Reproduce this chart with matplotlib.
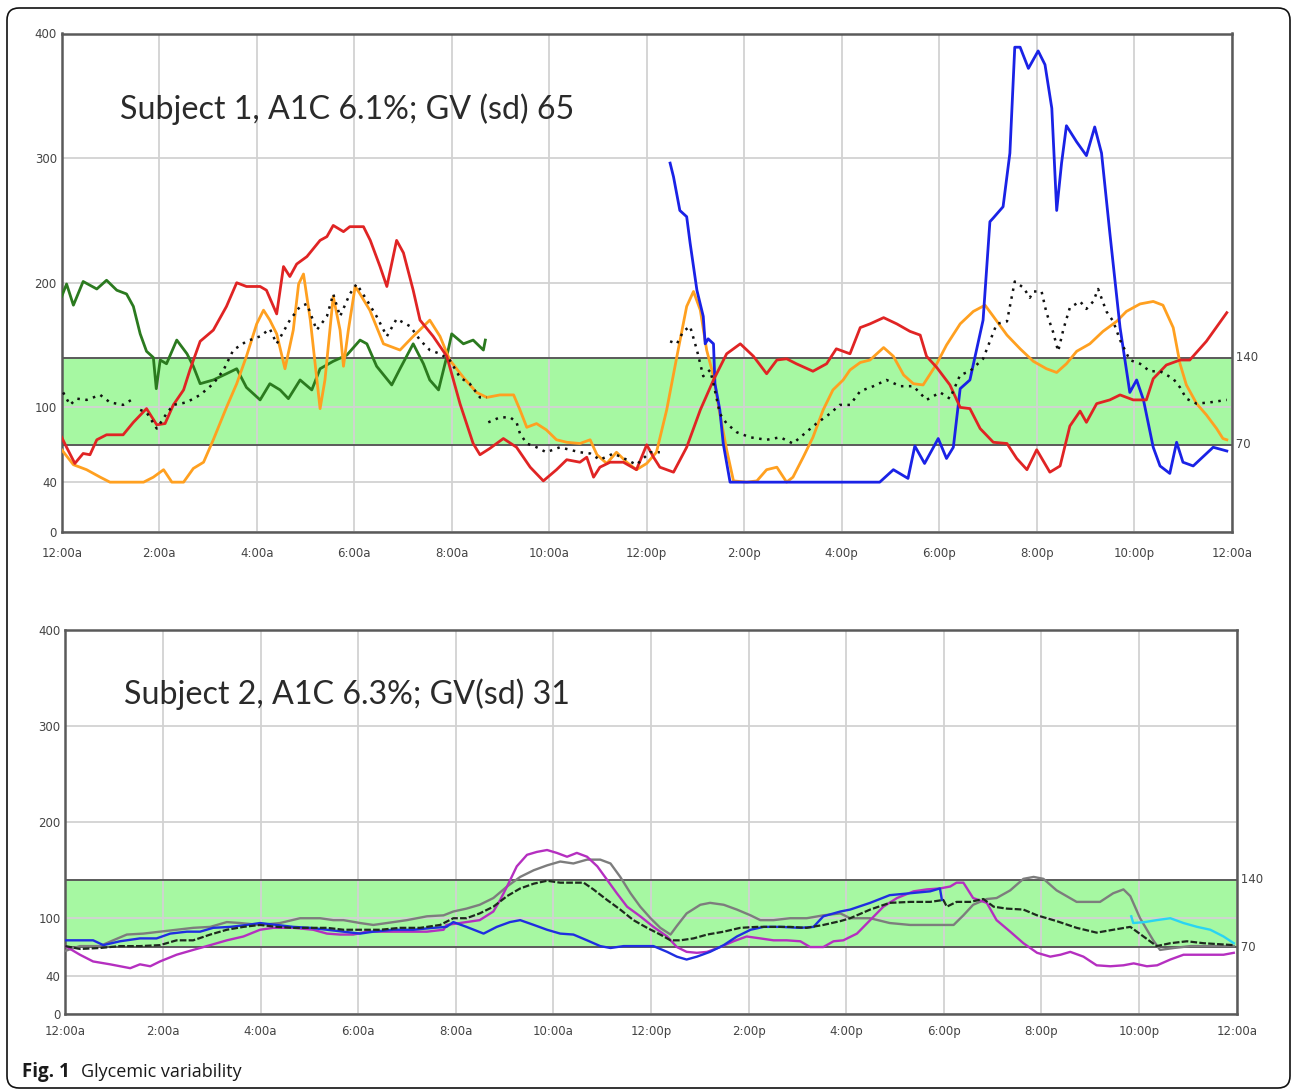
import matplotlib
matplotlib.use("Agg")
import matplotlib.pyplot as plt
from matplotlib.patches import FancyBboxPatch
import numpy as np

nan = float("nan")

hour_ticks = list(range(0, 25, 2))
hour_labels = ["12:00a", "2:00a", "4:00a", "6:00a", "8:00a", "10:00a", "12:00p",
               "2:00p", "4:00p", "6:00p", "8:00p", "10:00p", "12:00a"]
y_ticks = [0, 40, 100, 200, 300, 400]
target_lo, target_hi = 70, 140

title_1 = "Subject 1, A1C 6.1%; GV (sd) 65"
title_2 = "Subject 2, A1C 6.3%; GV(sd) 31"

# ---- subject 1 (hours, mg/dL) ----
s1_green_t = [0, 0.1, 0.24, 0.44, 0.72, 0.92, 1.13, 1.33, 1.47, 1.61, 1.74, 1.88, 1.94, 2.02, 2.15,
              2.36, 2.57, 2.7, 2.84, 3.11, 3.38, 3.59, 3.79, 4.07, 4.27, 4.48, 4.65, 4.89, 5.13, 5.3,
              5.57, 5.85, 6.12, 6.26, 6.46, 6.77, 6.94, 7.21, 7.42, 7.55, 7.73, 7.9, 8.0, 8.24, 8.44,
              8.65, 8.69]
s1_green_v = [189, 199, 182, 201, 195, 202, 194, 191, 181, 159, 145, 140, 115, 138, 135,
              154, 143, 133, 119, 122, 127, 131, 116, 106, 119, 114, 107, 122, 114, 131,
              137, 142, 154, 151, 133, 118, 131, 151, 135, 122, 114, 141, 159, 151, 154,
              146, 154]

s1_red_t = [0, 0.1, 0.27, 0.44, 0.58, 0.72, 0.92, 1.26, 1.47, 1.74, 1.95, 2.12, 2.29, 2.5, 2.63,
            2.84, 3.11, 3.38, 3.59, 3.79, 4.07, 4.2, 4.41, 4.55, 4.68, 4.82, 5.03, 5.3, 5.44, 5.57,
            5.78, 5.91, 6.19, 6.33, 6.53, 6.67, 6.87, 7.01, 7.21, 7.35, 7.62, 7.9, 8.17, 8.44, 8.58,
            8.78, 9.06, 9.33, 9.61, 9.88, 10.15, 10.36, 10.63, 10.77, 10.91, 11.04, 11.25, 11.52,
            11.79, 12.0, 12.14, 12.27, 12.55, 12.82, 13.1, 13.37, 13.64, 13.92, 14.19, 14.46, 14.67,
            14.87, 15.07, 15.41, 15.69, 15.89, 16.17, 16.38, 16.58, 16.86, 17.13, 17.4, 17.61, 17.74,
            17.95, 18.22, 18.43, 18.63, 18.84, 19.11, 19.39, 19.59, 19.8, 20.0, 20.27, 20.48, 20.68,
            20.89, 21.02, 21.23, 21.5, 21.71, 21.98, 22.25, 22.39, 22.66, 22.94, 23.14, 23.48, 23.9]
s1_red_v = [76, 68, 55, 63, 62, 74, 78, 78, 88, 99, 86, 87, 102, 114, 130,
            153, 162, 181, 200, 197, 197, 194, 175, 213, 205, 215, 221, 234, 237, 246,
            241, 245, 245, 234, 213, 197, 234, 224, 194, 170, 157, 141, 103, 71, 62,
            67, 75, 68, 52, 41, 50, 58, 56, 60, 44, 52, 56, 56,
            50, 70, 60, 52, 48, 68, 98, 122, 143, 151, 141, 127, 138,
            139, 135, 129, 135, 147, 143, 164, 167, 172, 167, 161, 158, 141,
            132, 118, 100, 99, 83, 72, 71, 59, 50, 66, 48, 53, 85,
            97, 88, 103, 106, 110, 106, 106, 123, 134, 138, 138, 153, 176]

s1_orange_t = [0, 0.24, 0.51, 0.79, 0.99, 1.68, 1.88, 2.09, 2.26, 2.5, 2.7, 2.91, 3.11, 3.38, 3.59,
               3.79, 4.0, 4.14, 4.27, 4.41, 4.58, 4.75, 4.86, 4.96, 5.1, 5.3, 5.4, 5.57, 5.71, 5.78,
               5.88, 6.02, 6.12, 6.32, 6.6, 6.94, 7.21, 7.42, 7.55, 7.76, 7.96, 8.24, 8.51, 8.72, 8.99,
               9.27, 9.4, 9.54, 9.74, 9.94, 10.15, 10.36, 10.63, 10.84, 10.98, 11.18, 11.38, 11.59,
               11.79, 12.0, 12.2, 12.41, 12.62, 12.82, 12.96, 13.1, 13.23, 13.37, 13.5, 13.64, 13.78,
               14.05, 14.26, 14.46, 14.67, 14.87, 15.0, 15.21, 15.41, 15.62, 15.82, 16.03, 16.17,
               16.38, 16.58, 16.86, 17.06, 17.27, 17.47, 17.67, 17.95, 18.15, 18.43, 18.7, 18.94,
               19.11, 19.39, 19.66, 19.93, 20.2, 20.41, 20.61, 20.82, 21.09, 21.36, 21.64, 21.84,
               22.12, 22.39, 22.59, 22.8, 22.94, 23.07, 23.28, 23.48, 23.69, 23.82, 23.9]
s1_orange_v = [66, 54, 50, 44, 40, 40, 44, 50, 40, 40, 51, 56, 74, 100, 119,
               141, 167, 178, 170, 159, 131, 162, 199, 207, 170, 99, 122, 189, 162, 133,
               162, 197, 191, 178, 151, 146, 157, 165, 170, 157, 138, 124, 112, 108, 110,
               110, 98, 84, 87, 82, 74, 72, 71, 74, 62, 55, 64, 56,
               50, 55, 64, 98, 141, 181, 193, 178, 146, 125, 95, 66, 41,
               40, 41, 50, 52, 40, 44, 60, 76, 98, 114, 122, 130,
               136, 138, 148, 141, 126, 119, 118, 135, 150, 167, 177, 182,
               173, 158, 147, 137, 131, 128, 135, 145, 151, 161, 169, 177,
               183, 185, 182, 164, 135, 118, 103, 94, 83, 75, 74]

s1_blue_t = [12.48, 12.55, 12.68, 12.82, 12.89, 13.03, 13.16, 13.2, 13.26, 13.37, 13.4, 13.5, 13.57,
             13.71, 16.78, 17.06, 17.36, 17.5, 17.7, 17.98, 18.15, 18.29, 18.43, 18.63, 18.9, 19.04,
             19.11, 19.31, 19.45, 19.55, 19.66, 19.83, 20.03, 20.17, 20.31, 20.41, 20.51, 20.61,
             20.82, 21.02, 21.19, 21.33, 21.5, 21.71, 21.91, 22.05, 22.19, 22.39, 22.53, 22.73,
             22.87, 23.0, 23.21, 23.62, 23.9]
s1_blue_v = [296, 285, 258, 253, 232, 194, 173, 151, 155, 151, 119, 98, 71,
             40, 40, 50, 43, 69, 55, 75, 59, 68, 115, 122, 170, 249,
             252, 261, 304, 389, 389, 372, 386, 375, 340, 258, 296, 326,
             313, 302, 325, 304, 240, 164, 112, 122, 106, 68, 53, 47,
             72, 56, 53, 68, 65]

# median trace, nan marks a gap
s1_median_t = [0.03, 0.17, 0.31, 0.51, 0.79, 0.99, 1.26, 1.47, 1.54,
               1.61, 1.74, 1.95, 2.15, 2.29, 2.56, 2.84, 3.11, 3.32, 3.52, 3.79, 4.07, 4.27, 4.41,
               4.68, 4.89, 5.03, 5.23, 5.44, 5.57, 5.71, 5.91, 6.05, 6.26, 6.46, 6.67, 6.87, 7.15,
               7.35, 7.55, 7.76, 7.96, 8.17, 8.37, 8.58, 8.72, 8.74,
               8.75, 8.99, 9.2, 9.33, 9.4, 9.54, 9.74, 9.94, 10.22, 10.42, 10.63, 10.84, 11.04,
               11.32, 11.59, 11.79, 12.07, 12.27, 12.4,
               12.48, 12.62, 12.75, 12.89, 13.03, 13.16, 13.3, 13.37, 13.5, 13.64, 13.85, 14.12,
               14.46, 14.74, 15.0, 15.21, 15.48, 15.76, 15.96, 16.17, 16.38, 16.65, 16.92, 17.2,
               17.47, 17.74, 18.02, 18.22, 18.43, 18.63, 18.9, 19.04, 19.18, 19.39, 19.55, 19.73,
               19.86, 19.93, 20.1, 20.2, 20.34, 20.44, 20.55, 20.68, 20.89, 21.02, 21.16, 21.26,
               21.43, 21.57, 21.71, 21.91, 22.12, 22.32, 22.53, 22.8, 22.94, 23.07, 23.28, 23.55, 23.9]
s1_median_v = [112, 102, 107, 106, 110, 104, 102, 107, nan,
               98, 96, 83, 95, 102, 104, 110, 119, 130, 146, 153, 157, 163, 151,
               170, 181, 183, 162, 173, 191, 173, 191, 199, 186, 173, 157, 171, 165,
               154, 146, 143, 138, 124, 119, 108, 108, nan,
               88, 92, 92, 88, 79, 71, 68, 64, 68, 66, 64, 63, 58,
               63, 58, 54, 64, 64, nan,
               153, 151, 161, 165, 146, 125, 130, 119, 95, 87, 80, 76,
               74, 76, 71, 78, 87, 95, 102, 102, 113, 117, 122, 117,
               117, 106, 112, 107, 126, 129, 139, 153, 167, 169, 201, 196,
               188, 193, 193, 176, 160, 145, 163, 180, 185, 179, 185, 195,
               177, 169, 154, 138, 135, 129, 129, 123, 116, 107, 103, 104, 106]

# ---- subject 2 ----
s2_magenta_t = [0, 0.3, 0.57, 0.92, 1.33, 1.53, 1.74, 1.94, 2.28, 2.62, 2.97, 3.31, 3.65, 3.99, 4.26,
                4.67, 5.08, 5.36, 5.63, 5.9, 6.18, 6.59, 7.0, 7.41, 7.75, 7.81, 7.95, 8.22, 8.49, 8.77,
                8.91, 9.05, 9.25, 9.46, 9.66, 9.87, 10.07, 10.28, 10.48, 10.69, 10.9, 11.1, 11.3,
                11.51, 11.78, 12.05, 12.33, 12.53, 12.73, 12.94, 13.15, 13.42, 13.69, 13.96, 14.24,
                14.51, 14.78, 15.06, 15.26, 15.53, 15.74, 15.94, 16.22, 16.49, 16.76, 17.04, 17.38,
                17.65, 17.92, 18.13, 18.26, 18.4, 18.6, 18.88, 19.08, 19.36, 19.63, 19.91, 20.18,
                20.39, 20.59, 20.86, 21.13, 21.41, 21.68, 21.89, 22.16, 22.37, 22.64, 22.91, 23.32,
                23.73, 23.94]
s2_magenta_v = [71, 62, 55, 52, 48, 52, 50, 55, 62, 67, 72, 77, 81, 88, 90,
                90, 88, 84, 83, 83, 86, 86, 86, 86, 88, 93, 94, 96, 98, 107,
                119, 133, 154, 166, 169, 171, 168, 164, 168, 164, 154, 140, 126,
                112, 102, 91, 81, 70, 65, 64, 65, 70, 76, 81, 79,
                77, 77, 76, 70, 70, 76, 77, 84, 98, 112, 121, 128,
                130, 131, 133, 137, 137, 121, 116, 98, 86, 74, 64, 60,
                62, 65, 60, 51, 50, 51, 53, 50, 51, 57, 62, 62,
                62, 64]

s2_gray_t = [0, 0.3, 0.71, 0.98, 1.26, 1.6, 1.94, 2.28, 2.62, 2.97, 3.31, 3.58, 3.99, 4.4, 4.81,
             5.22, 5.49, 5.7, 6.04, 6.31, 6.59, 7.0, 7.41, 7.75, 7.95, 8.22, 8.49, 8.77, 9.05, 9.32,
             9.6, 9.87, 10.14, 10.41, 10.69, 10.96, 11.17, 11.37, 11.58, 11.78, 11.99, 12.19, 12.4,
             12.53, 12.73, 13.01, 13.21, 13.49, 13.76, 14.04, 14.24, 14.51, 14.85, 15.19, 15.53,
             15.88, 16.08, 16.49, 16.89, 17.31, 17.72, 18.2, 18.4, 18.6, 18.88, 19.08, 19.36, 19.63,
             19.84, 20.04, 20.31, 20.72, 21.2, 21.47, 21.68, 21.82, 22.02, 22.29, 22.43, 22.71,
             23.05, 23.46, 23.94]
s2_gray_v = [66, 71, 71, 77, 83, 84, 86, 88, 90, 91, 96, 95, 93, 95, 100,
             100, 98, 98, 95, 93, 95, 98, 102, 103, 107, 110, 114, 121, 133, 143,
             150, 155, 159, 157, 161, 161, 157, 143, 126, 112, 100, 90, 83,
             92, 105, 114, 116, 114, 109, 103, 98, 98, 100, 100, 103,
             105, 100, 100, 95, 93, 93, 93, 103, 114, 120, 121, 129, 141,
             143, 141, 129, 117, 117, 126, 130, 123, 100, 77, 67, 69,
             71, 71, 71]

s2_median_t = [0, 0.3, 0.71, 1.12, 1.53, 1.94, 2.28, 2.62, 2.97, 3.31, 3.65, 3.99, 4.33, 4.67, 5.08,
               5.36, 5.7, 6.04, 6.45, 6.86, 7.27, 7.68, 7.95, 8.22, 8.49, 8.77, 9.05, 9.32, 9.6, 9.87,
               10.14, 10.41, 10.62, 10.82, 11.1, 11.37, 11.64, 11.92, 12.19, 12.4, 12.6, 12.87, 13.15,
               13.49, 13.83, 14.17, 14.51, 14.85, 15.19, 15.53, 15.88, 16.08, 16.49, 16.89, 17.31,
               17.72, 17.99, 18.06, 18.26, 18.54, 18.81, 19.02, 19.29, 19.63, 19.91, 20.31, 20.72,
               21.13, 21.47, 21.82, 22.09, 22.36, 22.64, 22.98, 23.32, 23.94]
s2_median_v = [71, 68, 69, 71, 71, 72, 77, 77, 83, 88, 91, 93, 91, 90, 90,
               90, 88, 88, 88, 90, 90, 93, 100, 100, 105, 112, 123, 131, 136, 139,
               137, 137, 137, 130, 119, 109, 98, 90, 83, 77, 77, 79, 83,
               86, 90, 91, 91, 91, 90, 93, 97, 100, 109, 116, 117,
               117, 119, 112, 117, 117, 120, 112, 110, 109, 103, 97, 90,
               85, 88, 91, 81, 71, 74, 76, 74, 72]

s2_blue_t = [0, 0.3, 0.57, 0.78, 1.12, 1.53, 1.87, 2.15, 2.49, 2.76, 3.03, 3.38, 3.72, 3.99, 4.33,
             4.67, 5.02, 5.36, 5.7, 6.04, 6.31, 6.72, 7.13, 7.54, 7.81, 7.95, 8.22, 8.57, 8.84, 9.11,
             9.32, 9.6, 9.87, 10.14, 10.41, 10.69, 10.96, 11.17, 11.44, 11.78, 12.05, 12.33, 12.53,
             12.73, 12.94, 13.21, 13.49, 13.76, 14.04, 14.31, 14.65, 15.06, 15.33, 15.53, 15.88,
             16.08, 16.49, 16.89, 17.31, 17.72, 17.92, 17.96]
s2_blue_v = [77, 77, 77, 72, 76, 79, 79, 84, 86, 86, 90, 91, 93, 95, 93,
             91, 90, 88, 86, 84, 86, 88, 88, 90, 91, 96, 91, 84, 91, 96,
             98, 93, 88, 84, 83, 77, 71, 69, 71, 71, 71, 65, 60,
             57, 60, 65, 72, 81, 88, 91, 91, 90, 91, 102, 107,
             109, 116, 124, 126, 128, 131, 119]

s2_cyan_t = [21.84, 21.88, 22.12, 22.36, 22.64, 22.91, 23.19, 23.46, 23.73, 23.94]
s2_cyan_v = [102, 95, 96, 98, 100, 95, 91, 88, 81, 74]


def setup_panel(ax, title, xpad, title_y):
    ax.set_xlim(0, 24)
    ax.set_ylim(0, 400)
    ax.axhspan(target_lo, target_hi, color="#a6f8a2", zorder=0.2, lw=0)
    ax.set_axisbelow(True)
    ax.set_xticks(hour_ticks)
    ax.grid(True, color="#d2d2d2", lw=1.3)
    ax.set_yticks(y_ticks)
    ax.set_yticklabels([str(v) for v in y_ticks])
    ax.set_xticklabels(hour_labels)
    ax.tick_params(length=0, labelsize=8.5, labelcolor="#444444")
    ax.tick_params(axis="x", pad=xpad)
    ax.tick_params(axis="y", pad=3.5)
    for y in (target_lo, target_hi):
        ax.axhline(y, color="#5a5a5a", lw=1.4, zorder=1.5)
        ax.text(1.0, y, " " + str(y), transform=ax.get_yaxis_transform(),
                fontsize=8.5, color="#444444", va="center", ha="left")
    for sp in ax.spines.values():
        sp.set_color("#5a5a5a")
        sp.set_linewidth(1.8)
    ax.text(0.05, title_y, title, transform=ax.transAxes, fontsize=23.2,
            family="Lato", color="#2a2a2a", va="center", ha="left")


fig = plt.figure(figsize=(12.92, 10.90), dpi=100)

# page frame
bg = fig.add_axes([0, 0, 1, 1], zorder=-5)
bg.set_xlim(0, 1292)
bg.set_ylim(1090, 0)
bg.axis("off")
bg.add_patch(FancyBboxPatch((7, 8), 1283, 1080, boxstyle="round,pad=0,rounding_size=12",
                            fc="white", ec="#111111", lw=1.2))
bg.text(22, 1072, "Fig. 1", fontsize=13.5, fontweight="bold", family="Open Sans",
        color="#1a1a1a", va="center", ha="left")
bg.text(81, 1072, "Glycemic variability", fontsize=13, family="Open Sans",
        color="#1a1a1a", va="center", ha="left")

ax1 = fig.add_axes([61.7 / 1292, 1 - 532 / 1090, 1170 / 1292, 498.5 / 1090])
setup_panel(ax1, title_1, 11, 0.848)
lw1 = 2.0
ax1.plot(s1_green_t, s1_green_v, color="#2b7a1f", lw=lw1, zorder=3)
ax1.plot(s1_orange_t, s1_orange_v, color="#ffa020", lw=lw1, zorder=3)
ax1.plot(s1_red_t, s1_red_v, color="#e02424", lw=lw1, zorder=3.2)
ax1.plot(s1_blue_t, s1_blue_v, color="#1a22e6", lw=lw1, zorder=3.1)
ax1.plot(s1_median_t, s1_median_v, color="#111111", lw=1.8, ls=(0, (1, 2.2)), zorder=3.3)

ax2 = fig.add_axes([65.3 / 1292, 1 - 1014.3 / 1090, 1171.4 / 1292, 384.3 / 1090])
setup_panel(ax2, title_2, 8, 0.832)
lw2 = 1.7
ax2.plot(s2_gray_t, s2_gray_v, color="#7d7d7d", lw=lw2, zorder=3)
ax2.plot(s2_magenta_t, s2_magenta_v, color="#b52fc0", lw=lw2, zorder=3.1)
ax2.plot(s2_blue_t, s2_blue_v, color="#1f2ee0", lw=lw2, zorder=3.2)
ax2.plot(s2_cyan_t, s2_cyan_v, color="#2ad4f2", lw=lw2, zorder=3.2)
ax2.plot(s2_median_t, s2_median_v, color="#1e2a1e", lw=1.6, ls=(0, (3, 1)), zorder=3.3)

fig.savefig("out.png", dpi=100)
